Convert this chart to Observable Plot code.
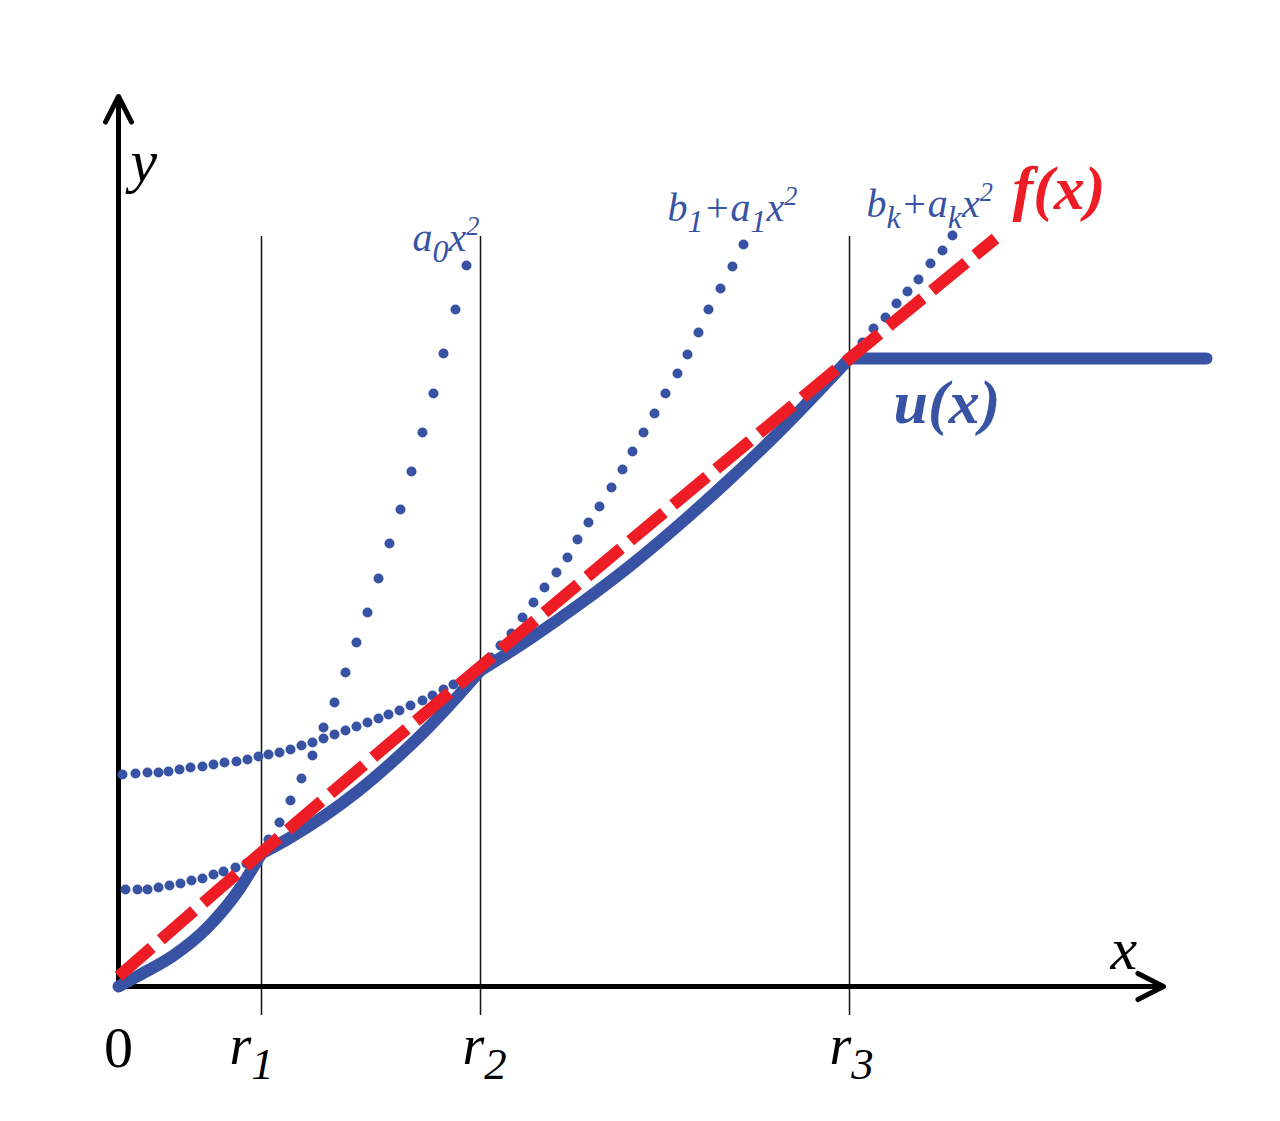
<!DOCTYPE html>
<html><head><meta charset="utf-8">
<script src="https://cdn.jsdelivr.net/npm/d3@7"></script>
<script src="https://cdn.jsdelivr.net/npm/@observablehq/plot@0.6"></script>
<style>html,body{margin:0;padding:0;background:#fff;overflow:hidden}</style>
</head><body><div id="chart"></div>
<script>
// Breakpoints r1, r2, r3 on the x axis
const breakpoints = [1.43, 3.62, 7.31];
const breakLabels = ["r_1", "r_2", "r_3"];
const breakLabelX = [1.33, 3.66, 7.33];

// Dotted parabola a0 x^2 (visible part beyond r1)
const a0X = [1.50, 1.61, 1.72, 1.83, 1.94, 2.05, 2.16, 2.27, 2.38, 2.49, 2.60, 2.71, 2.82, 2.93, 3.04, 3.15, 3.25, 3.37, 3.48];
const a0Y = [1.47, 1.64, 1.86, 2.08, 2.31, 2.59, 2.84, 3.14, 3.44, 3.74, 4.08, 4.43, 4.77, 5.15, 5.54, 5.93, 6.33, 6.77, 7.21];

// Dotted parabola b1 + a1 x^2
const b1X = [0.07, 0.19, 0.29, 0.40, 0.51, 0.62, 0.73, 0.84, 0.95, 1.05, 1.17, 1.28, 1.39,
             3.72, 3.82, 3.93, 4.04, 4.15, 4.26, 4.38, 4.49, 4.59, 4.70, 4.81, 4.93, 5.04, 5.14, 5.25, 5.36, 5.47, 5.59, 5.69, 5.80, 5.90, 6.02, 6.14, 6.25];
const b1Y = [0.97, 0.97, 0.97, 0.99, 1.01, 1.03, 1.06, 1.08, 1.12, 1.15, 1.19, 1.23, 1.28,
             3.29, 3.41, 3.53, 3.69, 3.84, 3.99, 4.14, 4.29, 4.47, 4.64, 4.80, 4.99, 5.17, 5.35, 5.54, 5.73, 5.93, 6.13, 6.32, 6.54, 6.77, 6.98, 7.20, 7.42];

// Dotted parabola bk + ak x^2
const bkX = [0.04, 0.17, 0.29, 0.40, 0.50, 0.61, 0.72, 0.84, 0.95, 1.06, 1.18, 1.29, 1.40, 1.50, 1.61, 1.72, 1.83, 1.94, 2.05, 2.16, 2.27, 2.38, 2.49, 2.60, 2.70, 2.81, 2.92, 3.04, 3.14, 3.25, 3.35, 3.47, 3.59,
             7.44, 7.55, 7.67, 7.78, 7.89, 8.00, 8.12, 8.24, 8.34];
const bkY = [2.12, 2.13, 2.14, 2.14, 2.15, 2.17, 2.19, 2.20, 2.22, 2.24, 2.25, 2.27, 2.30, 2.32, 2.34, 2.37, 2.41, 2.44, 2.48, 2.52, 2.56, 2.60, 2.64, 2.68, 2.72, 2.76, 2.81, 2.86, 2.91, 2.97, 3.02, 3.08, 3.15,
             6.44, 6.58, 6.69, 6.83, 6.95, 7.07, 7.23, 7.36, 7.51];

// Piecewise function u(x), one array pair per piece
const u0X = [0, 0.22, 0.55, 0.89, 1.22, 1.43];
const u0Y = [0, 0.12, 0.31, 0.59, 0.99, 1.33];
const u1X = [1.43, 1.72, 2.05, 2.39, 2.72, 3.05, 3.39, 3.62];
const u1Y = [1.33, 1.49, 1.70, 1.95, 2.23, 2.54, 2.90, 3.16];
const u2X = [3.62, 4.12, 4.62, 5.12, 5.62, 6.12, 6.62, 6.95, 7.31];
const u2Y = [3.16, 3.48, 3.83, 4.21, 4.63, 5.08, 5.56, 5.90, 6.28];
const u3X = [7.31, 10.88];
const u3Y = [6.28, 6.28];

// Target function f(x)
const fX = [0, 1.43, 3.62, 7.31, 8.77];
const fY = [0.10, 1.34, 3.20, 6.28, 7.48];

// Formula labels
const formulaText = ["a_0x^2", "b_1+a_1x^2", "b_k+a_kx^2"];
const formulaX = [2.94, 5.49, 7.48];
const formulaY = [7.36, 7.66, 7.70];

const zip = (X, Y, piece) => X.map((x, i) => ({x, y: Y[i], piece}));
const uPieces = [
  ...zip(u0X, u0Y, 0), ...zip(u1X, u1Y, 1), ...zip(u2X, u2Y, 2), ...zip(u3X, u3Y, 3)
];
const blue = "#3853a4", red = "#ee1c25";
const serif = "'Liberation Serif', 'Times New Roman', serif";

const chart = Plot.plot({
  width: 1280, height: 1121,
  marginTop: 0, marginRight: 0, marginBottom: 0, marginLeft: 0,
  x: {domain: [-1.18, 11.62], range: [0, 1280], axis: null},
  y: {domain: [-1.35, 9.86], range: [1121, 0], axis: null},
  style: {fontFamily: serif, background: "white"},
  marks: [
    Plot.ruleX(breakpoints, {y1: -0.29, y2: 7.50, stroke: "#111", strokeWidth: 1.5}),
    Plot.arrow([{x1: 0, y1: 0, x2: 0, y2: 8.90}], {x1: "x1", y1: "y1", x2: "x2", y2: "y2", stroke: "#000", strokeWidth: 5, headLength: 8.6, headAngle: 54}),
    Plot.arrow([{x1: -0.02, y1: 0, x2: 10.45, y2: 0}], {x1: "x1", y1: "y1", x2: "x2", y2: "y2", stroke: "#000", strokeWidth: 5, headLength: 8.6, headAngle: 54}),
    Plot.dot(zip(a0X, a0Y), {x: "x", y: "y", r: 5, fill: blue, stroke: "none"}),
    Plot.dot(zip(b1X, b1Y), {x: "x", y: "y", r: 5, fill: blue, stroke: "none"}),
    Plot.dot(zip(bkX, bkY), {x: "x", y: "y", r: 5, fill: blue, stroke: "none"}),
    Plot.line(uPieces, {x: "x", y: "y", z: "piece", stroke: blue, strokeWidth: 12, curve: "monotone-x", strokeLinecap: "round", strokeLinejoin: "round"}),
    Plot.line(zip(fX, fY), {x: "x", y: "y", stroke: red, strokeWidth: 12, strokeDasharray: "44,12", strokeLinecap: "butt", curve: "monotone-x"}),
    Plot.text(breakLabels, {x: breakLabelX, y: -0.77, text: d => d, fontSize: 56, fontStyle: "italic", fill: "#000", textAnchor: "middle", lineAnchor: "bottom"}),
    Plot.text(["0"], {x: [0], y: -0.80, text: d => d, fontSize: 58, fill: "#000", textAnchor: "middle", lineAnchor: "bottom"}),
    Plot.text(["y"], {x: [0.12], y: 8.06, text: d => d, fontSize: 60, fontStyle: "italic", fill: "#000", textAnchor: "start", lineAnchor: "bottom"}),
    Plot.text(["x"], {x: [9.92], y: 0.18, text: d => d, fontSize: 60, fontStyle: "italic", fill: "#000", textAnchor: "start", lineAnchor: "bottom"}),
    Plot.text(formulaText, {x: formulaX, y: formulaY, text: d => d, fontSize: 40, fontStyle: "italic", fill: blue, textAnchor: "start", lineAnchor: "bottom"}),
    Plot.text(["f(x)"], {x: [8.94], y: 7.78, text: d => d, fontSize: 62, fontStyle: "italic", fontWeight: "bold", fill: red, textAnchor: "start", lineAnchor: "bottom"}),
    Plot.text(["u(x)"], {x: [7.75], y: 5.64, text: d => d, fontSize: 62, fontStyle: "italic", fontWeight: "bold", fill: blue, textAnchor: "start", lineAnchor: "bottom"})
  ]
});
document.getElementById("chart").appendChild(chart);

// Turn _c and ^c into subscript / superscript tspans
const ns = "http://www.w3.org/2000/svg";
chart.querySelectorAll("text").forEach(t => {
  const s = t.textContent;
  if (!/[_^]/.test(s)) return;
  const fs = parseFloat(getComputedStyle(t).fontSize) || 40;
  t.textContent = "";
  let shift = 0, i = 0;
  while (i < s.length) {
    let ch = s[i], kind = "n";
    if ((ch === "_" || ch === "^") && i + 1 < s.length) { kind = ch; ch = s[i + 1]; i += 2; } else i++;
    const target = kind === "_" ? fs * 0.28 : kind === "^" ? -fs * 0.40 : 0;
    const ts = document.createElementNS(ns, "tspan");
    if (target - shift !== 0) ts.setAttribute("dy", target - shift);
    shift = target;
    if (kind === "_") ts.setAttribute("font-size", fs * 0.8);
    if (kind === "^") ts.setAttribute("font-size", fs * 0.66);
    ts.textContent = ch;
    t.appendChild(ts);
  }
});
</script>
</body></html>
